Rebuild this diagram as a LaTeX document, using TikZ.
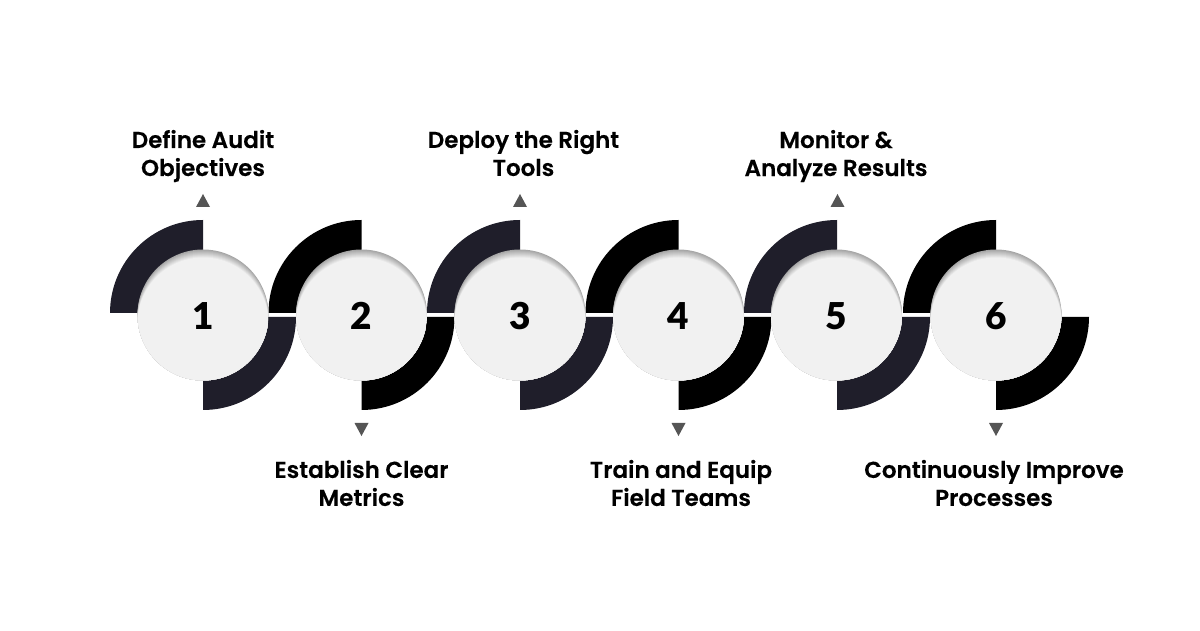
\documentclass[tikz,border=0pt]{standalone}
\usepackage{fontspec}
\setmainfont{Poppins}[BoldFont={Poppins SemiBold},BoldFeatures={FakeBold=0.3}]
\newfontfamily\digitfont{Lato Black}
\usetikzlibrary{positioning,shapes.geometric}
\definecolor{arcdark}{HTML}{1F1E2A}
\definecolor{rimgrey}{HTML}{A6A6A6}
\definecolor{discfill}{HTML}{F1F1F1}
\definecolor{marker}{HTML}{555555}
\newcommand{\stepnum}[1]{\raisebox{-1pt}[\height][\depth]{#1}}
\tikzset{x=1pt,y=1pt}
\tikzstyle{disc}=[circle,inner sep=0pt,minimum size=131pt,fill=rimgrey,font=\digitfont\fontsize{37}{37}\selectfont,
  path picture={
    \foreach \k in {1,...,8}{
      \pgfmathsetmacro{\mixval}{100*\k/8}
      \fill[discfill!\mixval!rimgrey] ([yshift=-\k*1pt]path picture bounding box.center) circle (65.5pt);
    }
  }]
\tikzstyle{caption}=[align=center,inner sep=0pt,font=\bfseries\fontsize{23}{28}\selectfont]
\begin{document}
\begin{tikzpicture}
\useasboundingbox (0,0) rectangle (1200,630);
% outer quarters
\fill[arcdark] (203,317) -- (110,317) arc[start angle=180,end angle=90,radius=93] -- cycle;
\fill[arcdark] (203,313) -- (296,313) arc[start angle=0,end angle=-90,radius=93] -- cycle;
\fill[black] (361.5,317) -- (268.5,317) arc[start angle=180,end angle=90,radius=93] -- cycle;
\fill[black] (361.5,313) -- (454.5,313) arc[start angle=0,end angle=-90,radius=93] -- cycle;
\fill[arcdark] (520,317) -- (427,317) arc[start angle=180,end angle=90,radius=93] -- cycle;
\fill[arcdark] (520,313) -- (613,313) arc[start angle=0,end angle=-90,radius=93] -- cycle;
\fill[black] (678.5,317) -- (585.5,317) arc[start angle=180,end angle=90,radius=93] -- cycle;
\fill[black] (678.5,313) -- (771.5,313) arc[start angle=0,end angle=-90,radius=93] -- cycle;
\fill[arcdark] (837,317) -- (744,317) arc[start angle=180,end angle=90,radius=93] -- cycle;
\fill[arcdark] (837,313) -- (930,313) arc[start angle=0,end angle=-90,radius=93] -- cycle;
\fill[black] (996,317) -- (903,317) arc[start angle=180,end angle=90,radius=93] -- cycle;
\fill[black] (996,313) -- (1089,313) arc[start angle=0,end angle=-90,radius=93] -- cycle;
% discs
\node[disc] (D1) at (203,315) {\stepnum{1}};
\node[disc] (D2) at (361.5,315) {\stepnum{2}};
\node[disc] (D3) at (520,315) {\stepnum{3}};
\node[disc] (D4) at (678.5,315) {\stepnum{4}};
\node[disc] (D5) at (836.5,315) {\stepnum{5}};
\node[disc] (D6) at (996,315) {\stepnum{6}};
% markers
\fill[marker] (196,423) -- (210,423) -- (203,436) -- cycle;
\fill[marker] (354.5,207) -- (368.5,207) -- (361.5,194) -- cycle;
\fill[marker] (513,423) -- (527,423) -- (520,436) -- cycle;
\fill[marker] (671.5,207) -- (685.5,207) -- (678.5,194) -- cycle;
\fill[marker] (830.5,423) -- (844.5,423) -- (837.5,436) -- cycle;
\fill[marker] (989,207) -- (1003,207) -- (996,194) -- cycle;
% captions
\node[caption] (C1) at (203,474) {Define Audit\\Objectives};
\node[caption] (C2) at (361.5,147) {Establish Clear\\Metrics};
\node[caption] (C3) at (523.5,477) {Deploy the Right\\Tools};
\node[caption] (C4) at (681,147) {Train and Equip\\Field Teams};
\node[caption] (C5) at (836,474) {Monitor \&\\Analyze Results};
\node[caption] (C6) at (994,147) {Continuously Improve\\Processes};
\end{tikzpicture}
\end{document}
